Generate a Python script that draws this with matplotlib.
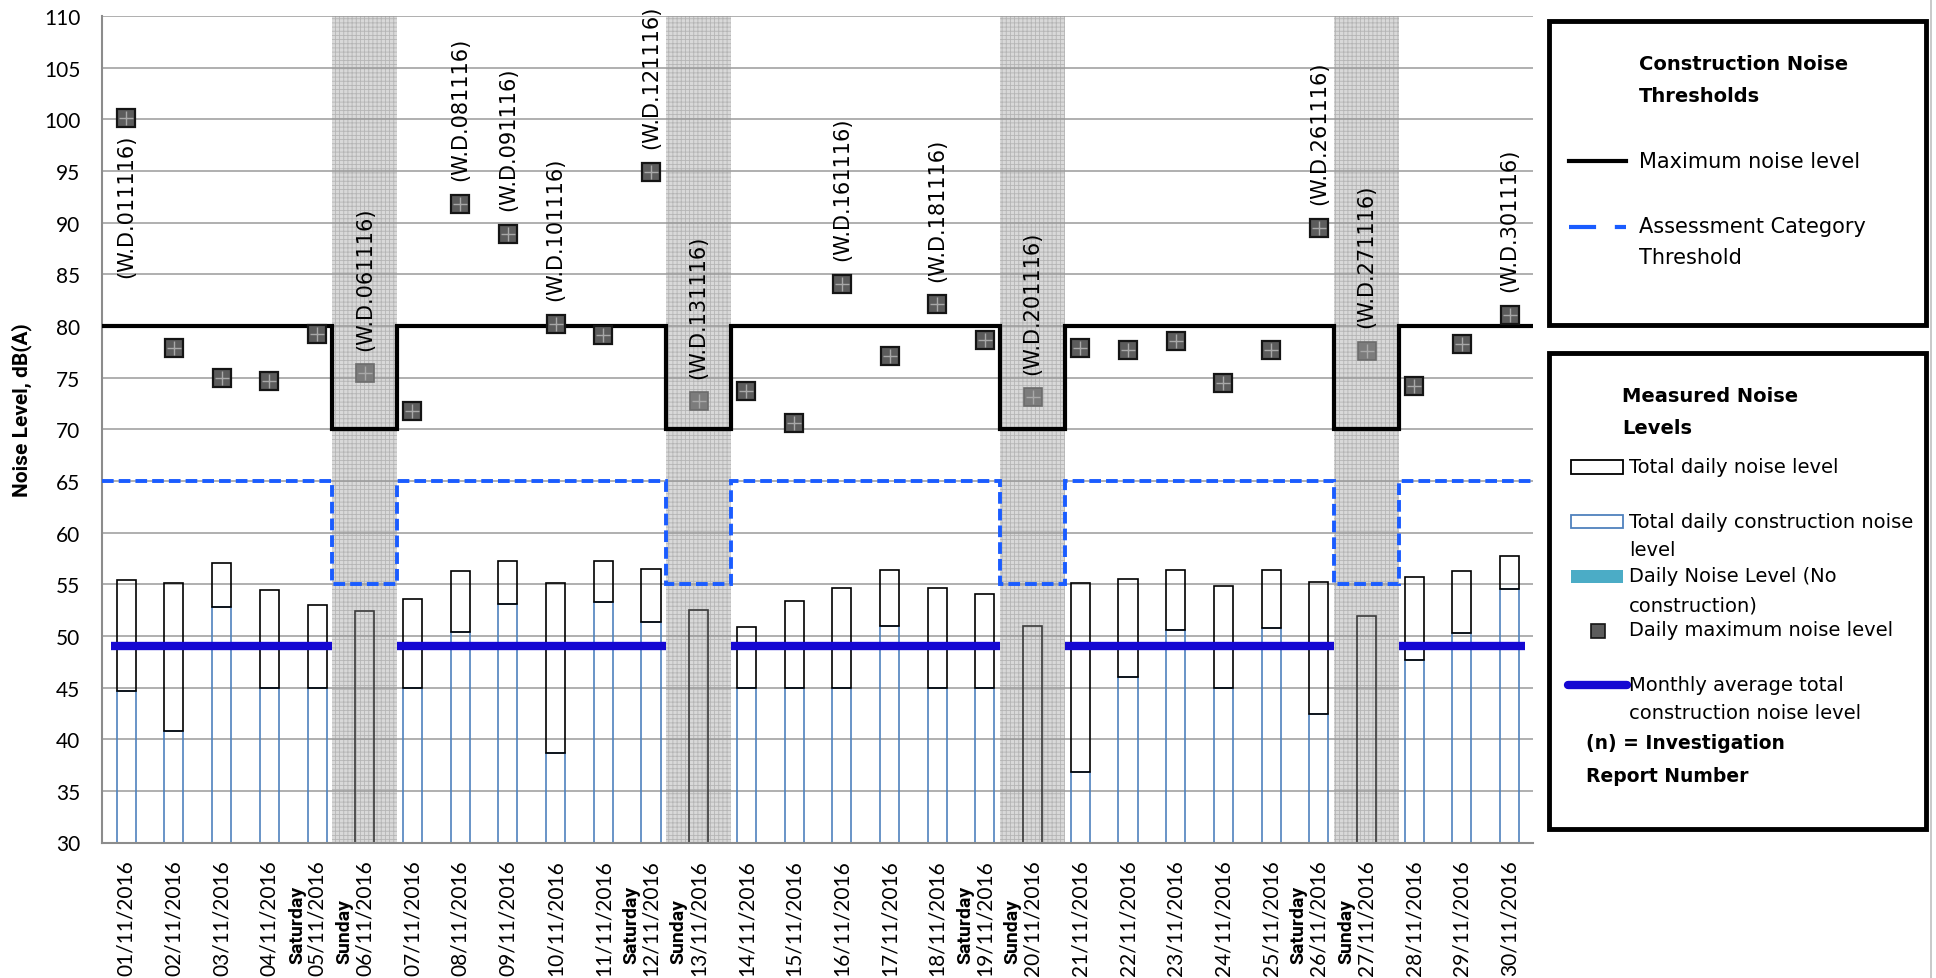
import numpy as np
import matplotlib
matplotlib.use("Agg")
import matplotlib.pyplot as plt
from matplotlib.patches import Rectangle
from matplotlib.lines import Line2D
from matplotlib.transforms import IdentityTransform

# ---------------- data ----------------
dates = ["01/11/2016", "02/11/2016", "03/11/2016", "04/11/2016", "05/11/2016",
         "06/11/2016", "07/11/2016", "08/11/2016", "09/11/2016", "10/11/2016",
         "11/11/2016", "12/11/2016", "13/11/2016", "14/11/2016", "15/11/2016",
         "16/11/2016", "17/11/2016", "18/11/2016", "19/11/2016", "20/11/2016",
         "21/11/2016", "22/11/2016", "23/11/2016", "24/11/2016", "25/11/2016",
         "26/11/2016", "27/11/2016", "28/11/2016", "29/11/2016", "30/11/2016"]
day_names = ["", "", "", "", "Saturday", "Sunday", "", "", "", "", "", "Saturday", "Sunday",
             "", "", "", "", "", "Saturday", "Sunday", "", "", "", "", "", "Saturday", "Sunday",
             "", "", ""]
nan = np.nan
construction_level = [44.7, 40.8, 52.8, 45.0, 45.0, nan, 45.0, 50.4, 53.1, 38.7, 53.3, 51.3, nan,
                      45.0, 45.0, 45.0, 51.0, 45.0, 45.0, nan, 36.8, 46.0, 50.6, 45.0, 50.8, 42.4, nan,
                      47.7, 50.3, 54.5]
total_level = [55.4, 55.15, 57.1, 54.4, 53.0, 52.4, 53.6, 56.3, 57.2, 55.1, 57.2, 56.5, 52.5,
               50.9, 53.4, 54.6, 56.4, 54.6, 54.1, 51.0, 55.1, 55.5, 56.4, 54.8, 56.4, 55.25, 51.9,
               55.7, 56.25, 57.75]
max_level = [100.1, 77.9, 75.0, 74.7, 79.2, 75.4, 71.8, 91.8, 88.9, 80.2, 79.1, 94.9, 72.7,
             73.7, 70.6, 84.1, 77.1, 82.1, 78.6, 73.1, 77.9, 77.7, 78.5, 74.5, 77.7, 89.5, 77.6,
             74.2, 78.3, 81.1]
max_threshold = [80, 80, 80, 80, 80, 70, 80, 80, 80, 80, 80, 80, 70, 80, 80, 80, 80, 80, 80, 70,
                 80, 80, 80, 80, 80, 80, 70, 80, 80, 80]
assessment_threshold = [65, 65, 65, 65, 65, 55, 65, 65, 65, 65, 65, 65, 55, 65, 65, 65, 65, 65, 65, 55,
                        65, 65, 65, 65, 65, 65, 55, 65, 65, 65]
monthly_avg = 49.0
reports = ["(W.D.011116)", "", "", "", "", "(W.D.061116)", "", "(W.D.081116)", "(W.D.091116)",
           "(W.D.101116)", "", "(W.D.121116)", "(W.D.131116)", "", "", "(W.D.161116)", "",
           "(W.D.181116)", "", "(W.D.201116)", "", "", "", "", "", "(W.D.261116)", "(W.D.271116)",
           "", "", "(W.D.301116)"]

# ---------------- style ----------------
W, H = 1936, 979
plt.rcParams["hatch.linewidth"] = 0.6
TICK_FONT = ["Lato", "DejaVu Sans"]
BOLD_TICK_FONT = ["Roboto", "DejaVu Sans"]
TXT_FONT = ["DejaVu Sans"]
SUN_HALF = 0.68
BLUE_DASH = "#1a5cff"
AVG_BLUE = "#1508d2"

fig = plt.figure(figsize=(W / 100, H / 100), dpi=100)
ax = fig.add_axes([102.4 / W, 1 - 843.5 / H, (1533.5 - 102.4) / W, (843.5 - 17) / H])

n = len(dates)
x = np.arange(n)
constr = np.array(construction_level, dtype=float)
total = np.array(total_level, dtype=float)
mx = np.array(max_level, dtype=float)
is_sun = np.array([d == "Sunday" for d in day_names])
wk = ~is_sun

# Sunday shaded bands
for i in x[is_sun]:
    ax.axvspan(i - SUN_HALF, i + SUN_HALF, facecolor="#d9d9d9", edgecolor="#b5b5b5",
               hatch="++++", lw=0, zorder=0.3)

# bars
ax.bar(x[wk], constr[wk] - 30, bottom=30, width=0.4, facecolor="none",
       edgecolor="#4f81bd", lw=1.2, zorder=2)
ax.bar(x[wk], total[wk] - constr[wk], bottom=constr[wk], width=0.4, facecolor="none",
       edgecolor="black", lw=1.2, zorder=2.1)
ax.bar(x[is_sun], total[is_sun] - 30, bottom=30, width=0.4, facecolor="none",
       edgecolor="#3a3a3a", lw=1.2, zorder=2)

# step edges (Sunday segments widened to band width)
edges = np.arange(n + 1) - 0.5
for k in range(n + 1):
    if k < n and is_sun[k]:
        edges[k] = k - SUN_HALF
    if k > 0 and is_sun[k - 1]:
        edges[k] = (k - 1) + SUN_HALF


def step_xy(e, v):
    xs = np.repeat(e, 2)[1:-1]
    ys = np.repeat(v, 2)
    return xs, ys


sx, sy = step_xy(edges, np.array(max_threshold, float))
ax.plot(sx, sy, color="black", lw=3, solid_joinstyle="miter", solid_capstyle="butt", zorder=3)
sx, sy = step_xy(edges, np.array(assessment_threshold, float))
ax.plot(sx, sy, color=BLUE_DASH, lw=2.8, dashes=(3, 1.3), dash_joinstyle="miter", zorder=3)

# monthly average segments (weekday groups)
groups = []
start = None
for i in range(n):
    if wk[i] and start is None:
        start = i
    if (not wk[i] or i == n - 1) and start is not None:
        end = i if wk[i] else i - 1
        groups.append((start, end))
        start = None
for s, e in groups:
    x0 = s - 0.33 if s == 0 else (s - 1) + SUN_HALF
    x1 = e + 0.33 if e == n - 1 else (e + 1) - SUN_HALF
    ax.plot([x0, x1], [monthly_avg, monthly_avg], color=AVG_BLUE, lw=6,
            solid_capstyle="butt", zorder=3.5)

# daily maximum markers
ax.plot(x[wk], mx[wk], "s", ms=13.5, mfc="#5c5c5c", mec="#151515", mew=1.6, zorder=5)
ax.plot(x[wk], mx[wk], "+", ms=10.5, color="#a8a8a8", mew=1.0, zorder=5.1)
ax.plot(x[is_sun], mx[is_sun], "s", ms=13.5, mfc="#7c7c7c", mec="#6c6c6c", mew=1.2, zorder=5)
ax.plot(x[is_sun], mx[is_sun], "+", ms=10.5, color="#a8a8a8", mew=1.0, zorder=5.1)

# investigation report labels
for i, r in enumerate(reports):
    if not r:
        continue
    if mx[i] >= 98:
        off, va = -11, "top"
    else:
        off, va = 17, "bottom"
    ax.annotate(r, (i, mx[i]), xytext=(0, off), textcoords="offset points", rotation=90,
                ha="center", va=va, fontsize=15, family=TXT_FONT, annotation_clip=False,
                zorder=6)

# axes formatting
ax.set_xlim(-0.5, n - 0.5)
ax.set_ylim(30, 110)
ax.set_yticks(np.arange(30, 111, 5))
ax.set_yticklabels([str(v) for v in range(30, 111, 5)], family=TICK_FONT, fontsize=15)
ax.set_xticks(x)
ax.set_xticklabels(dates, rotation=90, family=TICK_FONT, fontsize=15)
ax.tick_params(axis="y", length=0, pad=16)
ax.tick_params(axis="x", length=0, pad=12)
ax.yaxis.grid(True, color="#9a9a9a", lw=1.1)
ax.set_axisbelow(True)
for sp in ["top", "right"]:
    ax.spines[sp].set_visible(False)
for sp in ["left", "bottom"]:
    ax.spines[sp].set_color("#8c8c8c")
    ax.spines[sp].set_linewidth(1.5)

fig.text(22 / W, 1 - 410 / H, "Noise Level, dB(A)", rotation=90, ha="center", va="center",
         fontsize=15, fontweight="bold", family=BOLD_TICK_FONT)

# weekday names next to date labels
fig.canvas.draw()
for lbl, name in zip(ax.get_xticklabels(), day_names):
    if name:
        bb = lbl.get_window_extent()
        fig.text(bb.x0 - 1, bb.y0 + 12, name, rotation=90, ha="right", va="bottom",
                 fontsize=14, fontweight="bold", family=BOLD_TICK_FONT,
                 transform=IdentityTransform())


# ---------------- legend boxes ----------------
def fx(px):
    return px / W


def fy(py):
    return 1 - py / H


def ftext(px, py, s, size, bold=False):
    fig.text(fx(px), fy(py), s, ha="left", va="center", fontsize=size,
             fontweight="bold" if bold else "normal", family=TXT_FONT)


for (y0, y1) in [(22, 326), (354, 830)]:
    fig.add_artist(Rectangle((fx(1549), fy(y1)), fx(1926) - fx(1549), fy(y0) - fy(y1),
                             transform=fig.transFigure, fill=False, lw=3.5, ec="black"))
fig.add_artist(Line2D([fx(1931), fx(1931)], [0, 1], transform=fig.transFigure,
                      color="#c0c0c0", lw=1.2))

ftext(1639, 64, "Construction Noise", 14, True)
ftext(1639, 96, "Thresholds", 14, True)
fig.add_artist(Line2D([fx(1569), fx(1626)], [fy(162), fy(162)], transform=fig.transFigure,
                      color="black", lw=3))
ftext(1639, 162, "Maximum noise level", 15)
fig.add_artist(Line2D([fx(1569), fx(1626)], [fy(228), fy(228)], transform=fig.transFigure,
                      color=BLUE_DASH, lw=3, dashes=(6.5, 4.5)))
ftext(1639, 227, "Assessment Category", 15)
ftext(1639, 258, "Threshold", 15)

ftext(1622, 397, "Measured Noise", 14, True)
ftext(1622, 429, "Levels", 14, True)
fig.add_artist(Rectangle((fx(1571), fy(475)), fx(1623) - fx(1571), fy(461) - fy(475),
                         transform=fig.transFigure, fill=False, lw=1.3, ec="black"))
ftext(1629, 468, "Total daily noise level", 14)
fig.add_artist(Rectangle((fx(1571), fy(529)), fx(1623) - fx(1571), fy(516) - fy(529),
                         transform=fig.transFigure, fill=False, lw=1.3, ec="#4f81bd"))
ftext(1629, 522, "Total daily construction noise", 14)
ftext(1629, 551, "level", 14)
fig.add_artist(Rectangle((fx(1571), fy(584)), fx(1623) - fx(1571), fy(571) - fy(584),
                         transform=fig.transFigure, fc="#4bacc6", lw=0))
ftext(1629, 577, "Daily Noise Level (No", 14)
ftext(1629, 606, "construction)", 14)
fig.add_artist(Line2D([fx(1598)], [fy(632)], transform=fig.transFigure, marker="s", ms=10,
                      mfc="#5c5c5c", mec="#151515", mew=1.2, ls="none"))
ftext(1629, 631, "Daily maximum noise level", 14)
fig.add_artist(Line2D([fx(1568), fx(1627)], [fy(686), fy(686)], transform=fig.transFigure,
                      color=AVG_BLUE, lw=6, solid_capstyle="round"))
ftext(1629, 686, "Monthly average total", 14)
ftext(1629, 714, "construction noise level", 14)
ftext(1586, 744, "(n) = Investigation", 13.5, True)
ftext(1586, 777, "Report Number", 13.5, True)

fig.savefig("out.png", dpi=100)
